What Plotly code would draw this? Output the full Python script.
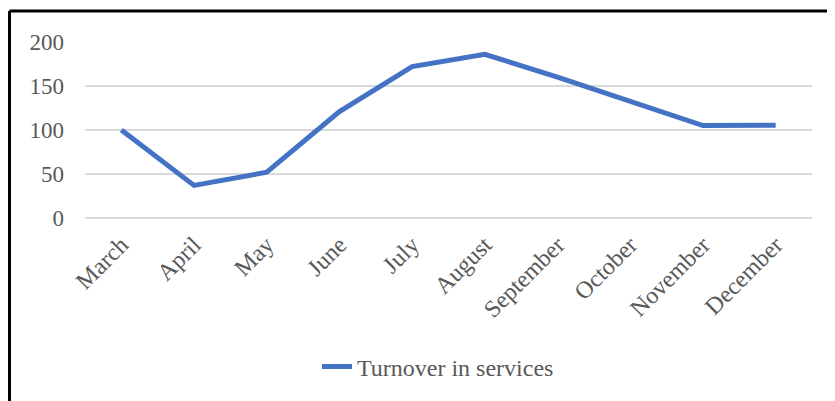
import plotly.graph_objects as go

months = ["March", "April", "May", "June", "July", "August",
          "September", "October", "November", "December"]
turnover = [100, 37, 52, 121, 172, 186, 160, 133, 105, 105.5]
series_name = "Turnover in services"
y_ticks = [0, 50, 100, 150, 200]

# page is rendered with an 8px body margin; work in figure coords = page - 8
OFF = 8
W, H = 835 - OFF, 401 - OFF
L, R, T, B = 85 - OFF, 23, 42 - OFF, 183
pw, ph = W - L - R, H - T - B

def px_x(x):
    return (x - OFF - L) / pw

def px_y(y):
    return (H - B - (y - OFF)) / ph

fig = go.Figure()
fig.add_trace(go.Scatter(
    x=months, y=turnover, mode="lines", name=series_name,
    line=dict(color="#4472C4", width=5),
))

family = "Liberation Serif, Times New Roman, serif"
font = dict(family=family, size=23, color="#595959")
xfont = dict(family=family, size=24, color="#595959")
lfont = dict(family=family, size=24, color="#595959")

fig.update_layout(
    width=W, height=H,
    margin=dict(l=L, r=R, t=T, b=B),
    paper_bgcolor="white", plot_bgcolor="white",
    font=font,
    showlegend=True,
    legend=dict(orientation="h", x=px_x(438), xanchor="center", y=px_y(367), yanchor="middle",
                font=lfont, bgcolor="rgba(0,0,0,0)"),
    xaxis=dict(tickangle=-45, showgrid=False, showline=False, zeroline=False,
               range=[-0.5, len(months) - 0.5],
               ticks="", tickfont=xfont, ticklabelstandoff=7),
    yaxis=dict(range=[0, 200], tickvals=y_ticks, showgrid=True, gridcolor="#D9D9D9",
               gridwidth=1.5, zeroline=True, zerolinecolor="#D9D9D9", zerolinewidth=1.5,
               showline=False, ticks="", tickfont=font, ticklabelstandoff=20),
    shapes=[
        dict(type="line", xref="paper", yref="paper", x0=px_x(9.5), x1=px_x(840),
             y0=px_y(11), y1=px_y(11), line=dict(color="black", width=3)),
        dict(type="line", xref="paper", yref="paper", x0=px_x(9.5), x1=px_x(9.5),
             y0=px_y(11), y1=px_y(410), line=dict(color="black", width=3)),
    ],
)

fig.write_html("out.html")
